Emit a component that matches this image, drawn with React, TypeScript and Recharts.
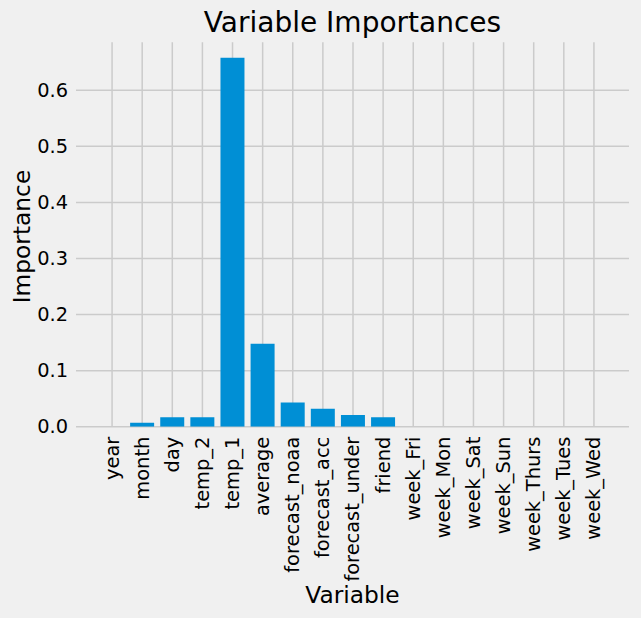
import React from 'react';
import { BarChart, Bar, XAxis, YAxis, CartesianGrid } from 'recharts';

const variables = [
  'year', 'month', 'day', 'temp_2', 'temp_1', 'average', 'forecast_noaa',
  'forecast_acc', 'forecast_under', 'friend', 'week_Fri', 'week_Mon',
  'week_Sat', 'week_Sun', 'week_Thurs', 'week_Tues', 'week_Wed',
];
const importances = [
  0, 0.007, 0.017, 0.017, 0.658, 0.148, 0.043, 0.032, 0.021, 0.017,
  0, 0, 0, 0, 0, 0, 0,
];
const yTicks = [0, 0.1, 0.2, 0.3, 0.4, 0.5, 0.6];
const yMax = 0.6856;

const data = variables.map((v, i) => ({ variable: v, importance: importances[i] }));

const FONT = '"DejaVu Sans", sans-serif';

const XTick = (props: any) => {
  const { x, y, payload } = props;
  return (
    <text
      x={x}
      y={y}
      transform={`rotate(-90, ${x}, ${y})`}
      textAnchor="end"
      dominantBaseline="central"
      fontSize={19.4}
      fontFamily={FONT}
      fill="#000"
    >
      {payload.value}
    </text>
  );
};

const YTick = (props: any) => {
  const { x, y, payload } = props;
  return (
    <text
      x={x}
      y={y}
      textAnchor="end"
      dominantBaseline="central"
      fontSize={19.4}
      fontFamily={FONT}
      fill="#000"
    >
      {Number(payload.value).toFixed(1)}
    </text>
  );
};

const XLabel = (props: any) => {
  const vb = props.viewBox;
  return (
    <text
      x={vb.x + vb.width / 2}
      y={vb.y + 176.3}
      textAnchor="middle"
      fontSize={23.3}
      fontFamily={FONT}
      fill="#000"
    >
      Variable
    </text>
  );
};

const YLabel = (props: any) => {
  const vb = props.viewBox;
  const cx = 30;
  const cy = vb.y + vb.height / 2 + 2;
  return (
    <text
      x={cx}
      y={cy}
      transform={`rotate(-90, ${cx}, ${cy})`}
      textAnchor="middle"
      fontSize={23.3}
      fontFamily={FONT}
      fill="#000"
    >
      Importance
    </text>
  );
};

export default function App() {
  return (
    <div
      style={{
        position: 'absolute',
        left: 0,
        top: 0,
        width: 641,
        height: 618,
        background: '#f0f0f0',
      }}
    >
      <svg
        width={641}
        height={45}
        style={{ position: 'absolute', left: 0, top: 0 }}
      >
        <text
          x={352.5}
          y={31.5}
          textAnchor="middle"
          fontSize={28}
          fontFamily={FONT}
          fill="#000"
        >
          Variable Importances
        </text>
      </svg>
      <BarChart
        width={641}
        height={618}
        data={data}
        margin={{ top: 42.3, left: 16, right: 12, bottom: 21.3 }}
        barCategoryGap={0}
      >
        <CartesianGrid stroke="#cbcbcb" strokeWidth={1.5} syncWithTicks />
        <XAxis
          dataKey="variable"
          type="category"
          interval={0}
          height={170}
          axisLine={false}
          tickLine={false}
          tickSize={0}
          tickMargin={10}
          padding={{ left: 21, right: 20 }}
          tick={<XTick />}
          label={<XLabel />}
        />
        <YAxis
          type="number"
          domain={[0, yMax]}
          allowDataOverflow
          ticks={yTicks}
          width={60}
          axisLine={false}
          tickLine={false}
          tickSize={0}
          tickMargin={8}
          tick={<YTick />}
          label={<YLabel />}
        />
        <Bar
          dataKey="importance"
          fill="#008fd5"
          barSize={24}
          isAnimationActive={false}
        />
      </BarChart>
    </div>
  );
}
